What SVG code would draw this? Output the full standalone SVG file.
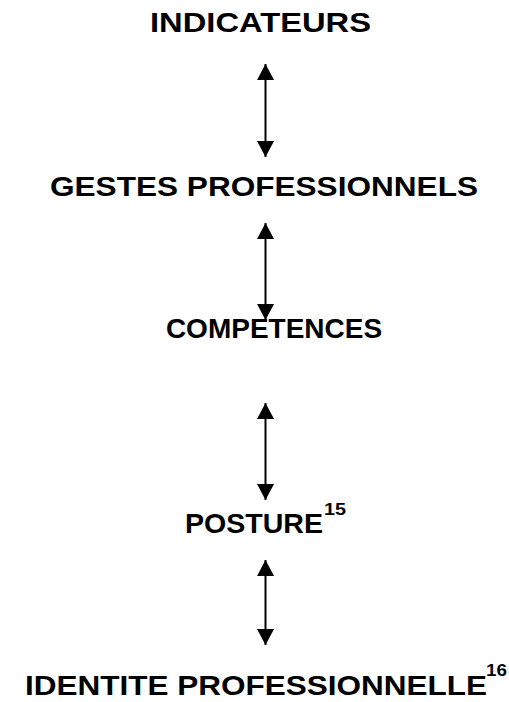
<svg xmlns="http://www.w3.org/2000/svg" width="509" height="702" viewBox="0 0 509 702">
  <style>
    .lbl { font-family: "Liberation Sans", Arial, sans-serif; font-weight: bold; font-size: 28px; fill: #000; }
    .sup { font-family: "Liberation Sans", Arial, sans-serif; font-weight: bold; font-size: 17px; fill: #000; }
    .link { stroke: #000; stroke-width: 2; fill: none; marker-start: url(#head); marker-end: url(#head); }
  </style>
  <defs>
    <marker id="head" viewBox="0 0 16 17" refX="16" refY="8.5" markerWidth="16" markerHeight="17" markerUnits="userSpaceOnUse" orient="auto-start-reverse">
      <path d="M0,0 L16,8.5 L0,17 Z" fill="#000"/>
    </marker>
  </defs>
  <rect width="509" height="702" fill="#fff"/>

  <g id="connectors">
    <line class="link" x1="265.5" y1="64" x2="265.5" y2="157"/>
    <line class="link" x1="265.5" y1="223" x2="265.5" y2="320"/>
    <line class="link" x1="265.5" y1="403" x2="265.5" y2="500"/>
    <line class="link" x1="265.5" y1="560" x2="265.5" y2="645"/>
  </g>

  <g id="indicateurs">
    <text class="lbl" x="150" y="32" textLength="221" lengthAdjust="spacingAndGlyphs">INDICATEURS</text>
  </g>
  <g id="gestes">
    <text class="lbl" x="50" y="196" textLength="428" lengthAdjust="spacingAndGlyphs">GESTES PROFESSIONNELS</text>
  </g>
  <g id="competences">
    <text class="lbl" x="274" y="338" text-anchor="middle">COMPETENCES</text>
  </g>
  <g id="posture">
    <text class="lbl" x="185" y="533" textLength="138" lengthAdjust="spacingAndGlyphs">POSTURE</text>
    <text class="sup" x="324" y="515" textLength="22" lengthAdjust="spacingAndGlyphs">15</text>
  </g>
  <g id="identite">
    <text class="lbl" x="25" y="695" textLength="462" lengthAdjust="spacingAndGlyphs">IDENTITE PROFESSIONNELLE</text>
    <text class="sup" x="486" y="676" textLength="21" lengthAdjust="spacingAndGlyphs">16</text>
  </g>
</svg>
